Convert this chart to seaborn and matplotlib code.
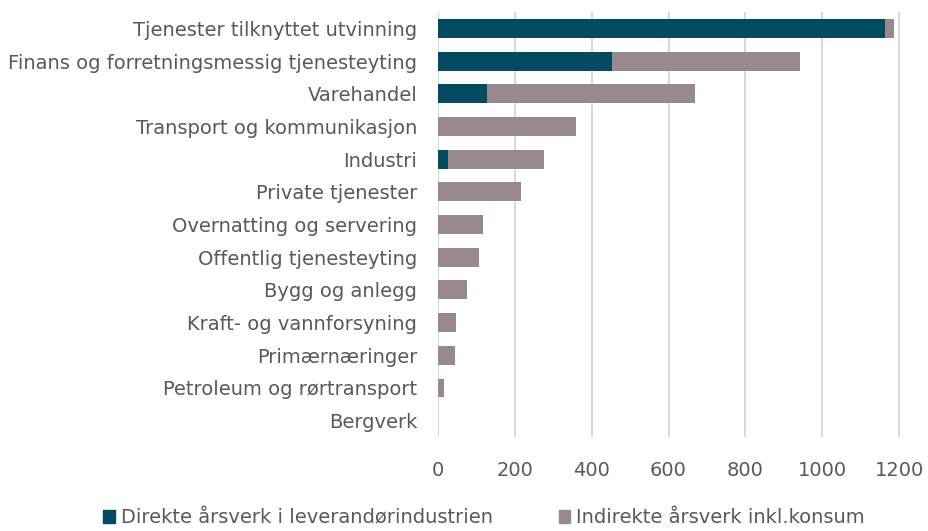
import matplotlib.pyplot as plt
import matplotlib.patches as mpatches
import pandas as pd
import seaborn as sns

# data
categories = [
    "Tjenester tilknyttet utvinning",
    "Finans og forretningsmessig tjenesteyting",
    "Varehandel",
    "Transport og kommunikasjon",
    "Industri",
    "Private tjenester",
    "Overnatting og servering",
    "Offentlig tjenesteyting",
    "Bygg og anlegg",
    "Kraft- og vannforsyning",
    "Primærnæringer",
    "Petroleum og rørtransport",
    "Bergverk",
]
direkte = [1163, 453, 127, 0, 27, 0, 0, 0, 0, 0, 0, 0, 0]
indirekte = [23, 490, 543, 360, 248, 216, 117, 107, 76, 47, 43, 16, 0]
legend_labels = ["Direkte årsverk i leverandørindustrien", "Indirekte årsverk inkl.konsum"]
xticks = [0, 200, 400, 600, 800, 1000, 1200]

TEAL = "#034B5F"
GRAY = "#98898C"
TEXT = "#595959"

df = pd.DataFrame({"Kategori": categories, "Direkte": direkte, "Indirekte": indirekte})
df["Totalt"] = df["Direkte"] + df["Indirekte"]

sns.set_style("white")
plt.rcParams["font.family"] = ["DejaVu Sans"]

fig, ax = plt.subplots(figsize=(9.29, 5.31), dpi=100)
fig.subplots_adjust(left=0.4715, right=0.969, top=0.977, bottom=0.177)

# stablet: totalen i grått, direkte i teal oppå
sns.barplot(data=df, x="Totalt", y="Kategori", orient="h", color=GRAY,
            width=0.58, saturation=1, linewidth=0, ax=ax, zorder=2)
sns.barplot(data=df, x="Direkte", y="Kategori", orient="h", color=TEAL,
            width=0.58, saturation=1, linewidth=0, ax=ax, zorder=3)

ax.set_xlim(0, 1203)
ax.set_ylim(12.5, -0.5)
ax.set_xticks(xticks)
ax.set_xticklabels([str(t) for t in xticks])
ax.xaxis.grid(True, color="#D9D9D9", linewidth=1.5, zorder=0)
ax.set_axisbelow(True)
for s in ax.spines.values():
    s.set_visible(False)
ax.tick_params(axis="both", length=0, labelsize=14, colors=TEXT)
ax.tick_params(axis="y", pad=15)
ax.tick_params(axis="x", pad=17)
ax.set_xlabel("")
ax.set_ylabel("")

handles = [mpatches.Patch(color=TEAL), mpatches.Patch(color=GRAY)]
fig.legend(handles, legend_labels, loc="lower center", bbox_to_anchor=(0.521, -0.026),
           ncol=2, frameon=False, fontsize=14, labelcolor=TEXT,
           handlelength=0.6, handleheight=0.6, handletextpad=0.3, columnspacing=3.4)

fig.savefig("out.png", dpi=100)
